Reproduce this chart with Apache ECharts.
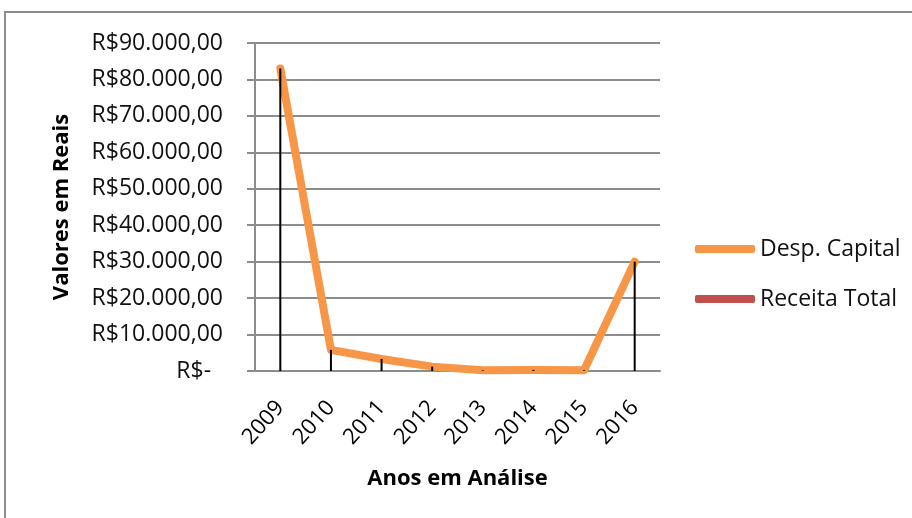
<!DOCTYPE html>
<html lang="pt">
<head>
    <meta charset="UTF-8">
    <title>Desp. Capital x Receita Total</title>
    <script src="https://cdn.jsdelivr.net/npm/echarts@6/dist/echarts.min.js"></script>
    <style>
        html, body { margin: 0; padding: 0; background: #fff; }
        #main { width: 912px; height: 518px; }
    </style>
</head>
<body>
<div id="main"></div>
<script>
    // dados
    var anos = ['2009', '2010', '2011', '2012', '2013', '2014', '2015', '2016'];
    var despCapital = [83000, 5800, 3300, 1200, 200, 300, 200, 30000];
    var receitaTotal = [null, null, null, null, null, null, null, null];
    var eixoY = { min: 0, max: 90000, interval: 10000 };

    function formataReal(v) {
        if (v === 0) return 'R$-  ';
        var s = String(Math.round(v)).replace(/\B(?=(\d{3})+(?!\d))/g, '.');
        return 'R$' + s + ',00';
    }

    var fonte = '"Open Sans", "Noto Sans", sans-serif';
    var myChart = echarts.init(document.getElementById('main'));

    var option = {
        animation: false,
        backgroundColor: '#fff',
        textStyle: { fontFamily: fonte },
        graphic: [{
            type: 'rect',
            shape: { x: 5, y: 12, width: 1000, height: 600 },
            style: { fill: 'none', stroke: '#8c8c8c', lineWidth: 2 },
            z: -1
        }],
        grid: { left: 255, right: 252, top: 43, bottom: 147 },
        legend: {
            orient: 'vertical',
            left: 690,
            top: 232,
            itemWidth: 60,
            itemHeight: 8,
            itemGap: 26,
            icon: 'roundRect',
            itemTextGap: 2,
            data: ['Desp. Capital', 'Receita Total'],
            textStyle: { fontSize: 23, color: '#111', fontFamily: fonte, lineHeight: 24 }
        },
        xAxis: {
            type: 'category',
            data: anos,
            name: 'Anos em Análise',
            nameLocation: 'middle',
            nameGap: 97,
            nameTextStyle: { fontSize: 22, fontWeight: 'bold', color: '#000', fontFamily: fonte },
            axisLine: { lineStyle: { color: '#8c8c8c', width: 2 } },
            axisTick: { show: false },
            axisLabel: { rotate: 48, fontSize: 22, color: '#000', margin: 33, interval: 0 },
            splitLine: { show: false }
        },
        yAxis: {
            type: 'value',
            min: eixoY.min,
            max: eixoY.max,
            interval: eixoY.interval,
            name: 'Valores em Reais',
            nameLocation: 'middle',
            nameGap: 182,
            nameTextStyle: { fontSize: 22, fontWeight: 'bold', color: '#000', fontFamily: fonte },
            axisLine: { show: true, lineStyle: { color: '#8c8c8c', width: 2 } },
            axisTick: { show: true, length: 8, lineStyle: { color: '#8c8c8c', width: 2 } },
            axisLabel: { fontSize: 23, color: '#111', margin: 32, formatter: formataReal },
            splitLine: { show: true, lineStyle: { color: '#8c8c8c', width: 2 } }
        },
        series: [
            {
                name: 'Desp. Capital',
                type: 'line',
                data: despCapital,
                showSymbol: false,
                symbol: 'none',
                itemStyle: { color: '#F79646' },
                lineStyle: { color: '#F79646', width: 8, cap: 'round', join: 'round' },
                z: 2
            },
            {
                name: 'Receita Total',
                type: 'line',
                data: receitaTotal,
                showSymbol: false,
                symbol: 'none',
                itemStyle: { color: '#C0504D' },
                lineStyle: { color: '#C0504D', width: 8 },
                z: 2
            },
            {
                // linhas de projecao (drop lines)
                name: 'linhas',
                type: 'bar',
                data: despCapital,
                barWidth: 2,
                itemStyle: { color: '#000' },
                silent: true,
                z: 3
            }
        ]
    };

    myChart.setOption(option);
</script>
</body>
</html>
